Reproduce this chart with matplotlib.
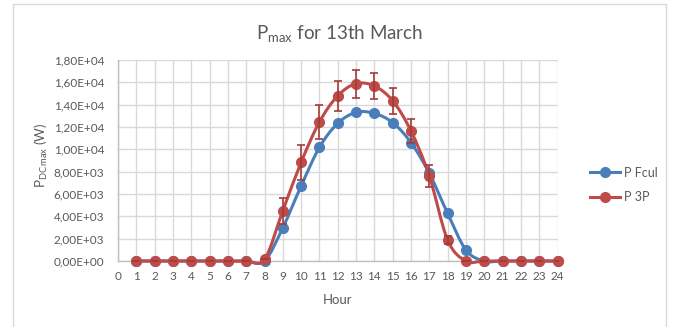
import numpy as np
import matplotlib
matplotlib.use("Agg")
import matplotlib.pyplot as plt
from matplotlib.path import Path
from matplotlib.patches import PathPatch, Rectangle
from matplotlib.lines import Line2D
from matplotlib.ticker import FuncFormatter

plt.rcParams['font.family'] = ['Lato', 'DejaVu Sans']
plt.rcParams['mathtext.fontset'] = 'custom'
plt.rcParams['mathtext.rm'] = 'Lato'
plt.rcParams['mathtext.it'] = 'Lato'

# ---- data ----
hours = list(range(1, 25))
p_fcul = [0, 0, 0, 0, 0, 0, 0, 0, 2980, 6720, 10180, 12330, 13310, 13220,
          12390, 10600, 7850, 4270, 985, 0, 0, 0, 0, 0]
p_3p = [0, 0, 0, 0, 0, 0, 0, 150, 4500, 8840, 12450, 14800, 15880, 15670,
        14350, 11640, 7610, 1880, 0, 0, 0, 0, 0, 0]
p_3p_err = [0, 0, 0, 0, 0, 0, 0, 0, 1150, 1550, 1500, 1350, 1250, 1200,
            1150, 1100, 1000, 350, 0, 0, 0, 0, 0, 0]
x_ticks = list(range(0, 25))
y_ticks = list(range(0, 18001, 2000))
xlabel = "Hour"
series_names = ["P Fcul", "P 3P"]

BLUE = "#4A7EBB"
RED = "#BE4B48"
ERR = "#A33B39"
GRID = "#D9D9D9"
TXT = "#595959"

W, H = 681, 327
fig = plt.figure(figsize=(W / 100, H / 100), dpi=100)
fig.patch.set_facecolor("white")

# chart border
fig.patches.append(Rectangle((12.5 / W, -0.1), (666 - 12.5) / W, 1.1 - 4.5 / H,
                             transform=fig.transFigure, fill=False,
                             edgecolor="#D9D9D9", lw=1.0))

L, R, T, B = 118, 557.5, 60, 261
ax = fig.add_axes([L / W, 1 - B / H, (R - L) / W, (B - T) / H])
ax.set_xlim(0, 24)
ax.set_ylim(0, 18000)
ax.set_xticks(x_ticks)
ax.set_yticks(y_ticks)
ax.yaxis.set_major_formatter(FuncFormatter(lambda v, p: f"{v:.2E}".replace('.', ',')))
ax.grid(True, color=GRID, lw=1.0)
ax.set_axisbelow(True)
for s in ["top", "right"]:
    ax.spines[s].set_visible(False)
for s in ["left", "bottom"]:
    ax.spines[s].set_color("#BFBFBF")
    ax.spines[s].set_linewidth(1.0)
ax.tick_params(length=0, labelsize=8.5, colors=TXT, pad=7)
ax.tick_params(axis='y', pad=10)


def smooth_path(xs, ys):
    pts = np.column_stack([xs, ys]).astype(float)
    n = len(pts)
    verts = [pts[0]]
    codes = [Path.MOVETO]
    for i in range(n - 1):
        p0 = pts[max(i - 1, 0)]
        p1 = pts[i]
        p2 = pts[i + 1]
        p3 = pts[min(i + 2, n - 1)]
        c1 = p1 + (p2 - p0) / 6.0
        c2 = p2 - (p3 - p1) / 6.0
        verts += [c1, c2, p2]
        codes += [Path.CURVE4] * 3
    return Path(verts, codes)


for ys, col, z in [(p_fcul, BLUE, 3), (p_3p, RED, 5)]:
    patch = PathPatch(smooth_path(hours, ys), fill=False, edgecolor=col,
                      lw=2.2, zorder=z, capstyle='round', joinstyle='round')
    patch.set_clip_on(False)
    ax.add_patch(patch)
    ax.plot(hours, ys, ls='none', marker='o', ms=7, color=col, zorder=z + 0.5,
            clip_on=False)

ax.errorbar(hours, p_3p, yerr=p_3p_err, fmt='none', ecolor=ERR, elinewidth=1.2,
            capsize=3, capthick=1.2, zorder=7)

# titles and labels
fig.text(339.5 / W, 1 - 33 / H, r"P$_{\mathrm{max}}$ for 13th March",
         ha='center', va='center', fontsize=13.5, color=TXT)
fig.text(41 / W, 1 - 155 / H, r"P$_{\mathrm{DC\,max}}$ (W)", rotation=90,
         ha='center', va='center', fontsize=9.5, color=TXT)
fig.text(337.5 / W, 1 - 300 / H, xlabel, ha='center', va='center',
         fontsize=9.5, color=TXT)

handles = [Line2D([], [], color=BLUE, lw=2.2, marker='o', ms=7),
           Line2D([], [], color=RED, lw=2.2, marker='o', ms=7)]
leg = fig.legend(handles, series_names, loc='center left',
                 bbox_to_anchor=(585 / W, 1 - 185 / H), frameon=False,
                 fontsize=9, labelcolor=TXT, handlelength=2.4,
                 handletextpad=0.3, labelspacing=1.0, borderaxespad=0)

fig.savefig("out.png", dpi=100, facecolor="white")
